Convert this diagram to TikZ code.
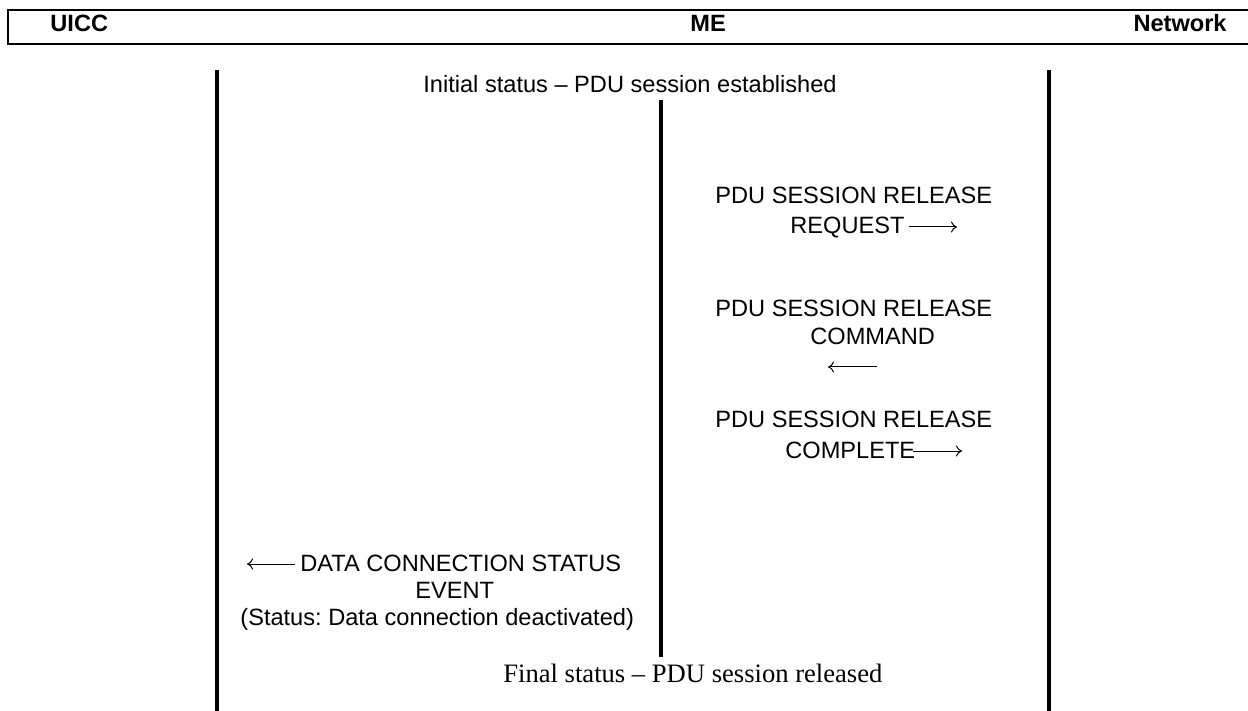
\documentclass[tikz,border=0pt]{standalone}
\usepackage{fontspec}
\setmainfont{Liberation Serif}
\setsansfont{Liberation Sans}
\usetikzlibrary{arrows.meta}
\frenchspacing
\begin{document}
\begin{tikzpicture}[x=0.5pt,y=-0.5pt,
  lab/.style={font=\sffamily\fontsize{11.8pt}{13.5pt}\selectfont, inner sep=0pt},
  hdr/.style={font=\sffamily\bfseries\fontsize{11.8pt}{13.5pt}\selectfont, inner sep=0pt},
  serif/.style={font=\rmfamily\fontsize{13.3pt}{15pt}\selectfont, inner sep=0pt},
  life/.style={line width=2pt},
  msg/.style={line width=0.5pt, -{To[length=3pt,width=5.5pt]}}]
\useasboundingbox (0,0) rectangle (1248,711);
% header
\draw[line width=1pt] (1250,10) -- (8,10) -- (8,44) -- (1250,44);
\node[hdr, anchor=base west] (uicc) at (50,31.5) {UICC};
\node[hdr, anchor=base west] (me) at (690,31.5) {ME};
\node[hdr, anchor=base east] (net) at (1227,31.5) {Network};
% lifelines
\coordinate (uiccTop) at (217,70);
\coordinate (uiccBot) at (217,711);
\coordinate (meTop) at (661,100);
\coordinate (meBot) at (661,657);
\coordinate (netTop) at (1049,70);
\coordinate (netBot) at (1049,711);
\draw[life] (uiccTop) -- (uiccBot);
\draw[life] (meTop) -- (meBot);
\draw[life] (netTop) -- (netBot);
% initial status
\node[lab, anchor=base west] (init) at (423,93) {Initial status – PDU session established};
% request
\node[lab, anchor=base west] (req1) at (715,203.5) {PDU SESSION RELEASE};
\node[lab, anchor=base west] (req2) at (790,234) {REQUEST};
\coordinate (reqA) at (909,227);
\coordinate (reqB) at (957,227);
\draw[msg] (reqA) -- (reqB);
% command
\node[lab, anchor=base west] (cmd1) at (715,317) {PDU SESSION RELEASE};
\node[lab, anchor=base west] (cmd2) at (810,344) {COMMAND};
\coordinate (cmdA) at (877,367);
\coordinate (cmdB) at (828,367);
\draw[msg] (cmdA) -- (cmdB);
% complete
\node[lab, anchor=base west] (cpl1) at (715,427) {PDU SESSION RELEASE};
\node[lab, anchor=base west] (cpl2) at (785,458) {COMPLETE};
\coordinate (cplA) at (913,451);
\coordinate (cplB) at (962,451);
\draw[msg] (cplA) -- (cplB);
% data connection status event
\node[lab, anchor=base west] (dcs1) at (300,571) {DATA CONNECTION STATUS};
\node[lab, anchor=base west] (dcs2) at (415,598) {EVENT};
\node[lab, anchor=base west] (dcs3) at (240,625) {(Status: Data connection deactivated)};
\coordinate (dcsA) at (295,564);
\coordinate (dcsB) at (247,564);
\draw[msg] (dcsA) -- (dcsB);
% final status
\node[serif, anchor=base west] (fin) at (503,682) {Final status – PDU session released};
\end{tikzpicture}
\end{document}
